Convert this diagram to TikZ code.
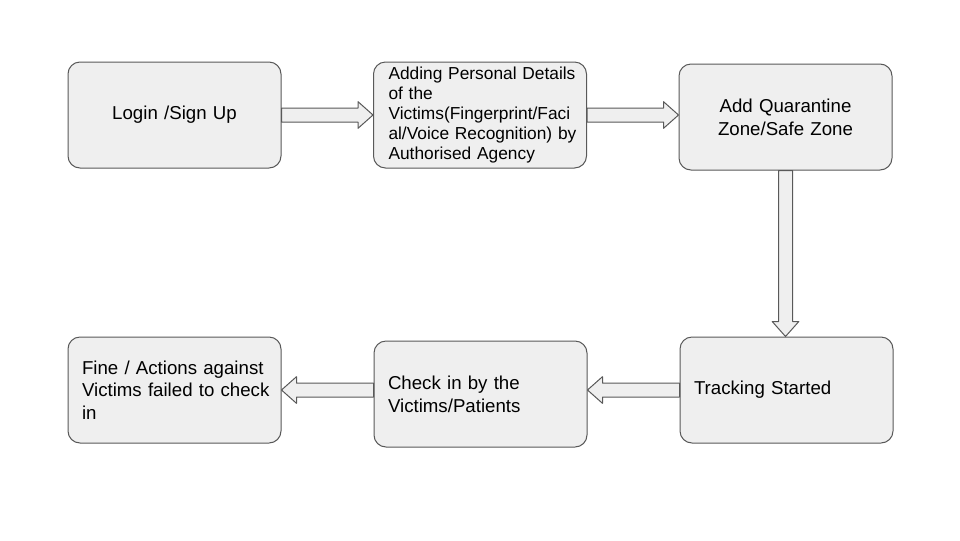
\documentclass[tikz,border=0pt]{standalone}
\usepackage{fontspec}
\setmainfont{Liberation Sans}
\usetikzlibrary{calc}
\definecolor{boxfill}{HTML}{EFEFEF}
\definecolor{boxline}{HTML}{595959}
\begin{document}
\begin{tikzpicture}[x=0.75pt,y=-0.75pt,line join=round,
  basebox/.style={draw=boxline,fill=boxfill,line width=0.75pt,rounded corners=9pt,minimum width=159.75pt,minimum height=79.5pt,inner xsep=0pt,text width=159.75pt,font=\fontsize{14}{17}\selectfont},
  box/.style={basebox,align=left,execute at begin node={\leftskip=10.5pt\relax}},
  midbox/.style={basebox,align=center},
  blockarrow/.style={draw=boxline,fill=boxfill,line width=0.75pt}]
\def \hw{5.25pt};
\def \hh{10pt};
\def \hl{11.25pt};
\fill[white] (0,0) rectangle (960,540);
\useasboundingbox (0,0) rectangle (960,540);
\node[midbox] (login) at (174.5,115) {\raisebox{-6pt}{Login /Sign Up}\hspace*{8pt}};
\node[box,inner ysep=2pt,font=\fontsize{13}{15}\selectfont,execute at begin node={\leftskip=11.25pt\relax}] (details) at (480,115) {Adding Personal Details\\of the\\Victims(Fingerprint/Faci\\al/Voice Recognition) by\\Authorised Agency};
\node[midbox] (quarantine) at (785.5,117) {Add Quarantine\\Zone/Safe Zone};
\node[box] (tracking) at (786.5,390) {\raisebox{-4.5pt}{Tracking Started}};
\node[box] (checkin) at (480.5,394) {Check in by the\\Victims/Patients};
\node[box] (fine) at (174.5,390) {Fine / Actions against\\Victims failed to check\\in};
\foreach \a/\b in {login.east/details.west, details.east/quarantine.west |- details.east, quarantine.south/quarantine.south |- tracking.north, tracking.west/checkin.east |- tracking.west, checkin.west |- fine.east/fine.east}{
  \coordinate (s) at (\a);
  \coordinate (t) at (\b);
  \coordinate (h) at ($(t)!\hl!(s)$);
  \draw[blockarrow] ($(s)!\hw!90:(t)$) -- ($(h)!\hw!90:(t)$) -- ($(h)!\hh!90:(t)$) -- (t) -- ($(h)!\hh!-90:(t)$) -- ($(h)!\hw!-90:(t)$) -- ($(s)!\hw!-90:(t)$) -- cycle;
}
\end{tikzpicture}
\end{document}
